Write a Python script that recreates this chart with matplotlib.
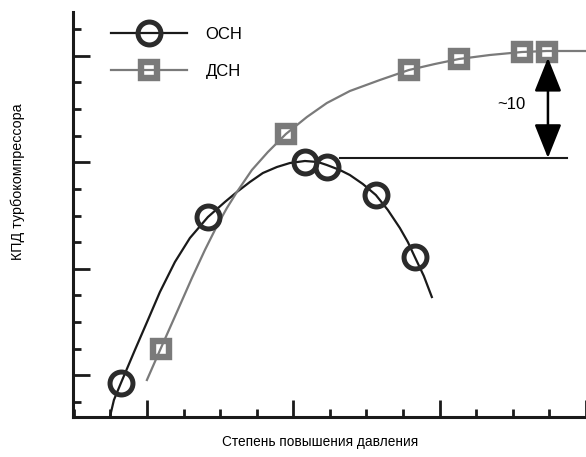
import matplotlib
matplotlib.use('Agg')
import matplotlib.pyplot as plt
from matplotlib.ticker import MultipleLocator

# ОСН: marker points and curve trace
osn_x = [-0.71, 1.67, 4.32, 4.92, 6.26, 7.32]
osn_y = [1.71, 7.94, 10.01, 9.82, 8.77, 6.44]
osn_curve_x = [-1.011, -0.902, -0.710, -0.328, 0.027, 0.355, 0.765, 1.175, 1.667,
               2.131, 2.459, 2.814, 3.169, 3.552, 3.907, 4.317, 4.672, 4.918, 5.273,
               5.546, 5.902, 6.257, 6.585, 6.913, 7.131, 7.322, 7.568, 7.787]
osn_curve_y = [0.44, 1.075, 1.713, 2.952, 4.078, 5.129, 6.255, 7.156, 7.944,
               8.508, 8.883, 9.258, 9.596, 9.821, 9.971, 10.047, 10.009, 9.896, 9.709,
               9.521, 9.183, 8.770, 8.207, 7.532, 7.006, 6.443, 5.730, 4.941]

# ДСН
dsn_x = [0.38, 3.80, 7.16, 8.52, 10.25, 10.93]
dsn_y = [2.99, 11.06, 13.46, 13.88, 14.14, 14.14]
dsn_curve_x = [0.0, 0.383, 0.820, 1.230, 1.585, 1.913, 2.186, 2.459, 2.869, 3.306,
               3.798, 4.372, 4.918, 5.546, 6.366, 7.158, 7.869, 8.525, 9.372, 10.246,
               10.929, 11.557, 11.995]
dsn_curve_y = [1.826, 3.027, 4.378, 5.655, 6.706, 7.607, 8.282, 8.883, 9.709, 10.384,
               11.060, 11.698, 12.224, 12.674, 13.087, 13.462, 13.688, 13.875, 14.026,
               14.138, 14.176, 14.176, 14.176]

# reference level and the gap annotation
ref_level = 10.16
ref_x = [5.27, 11.48]
gap_x = 10.96
gap_top = 13.92
gap_label = '~10'

fig = plt.figure(figsize=(5.86, 4.57), dpi=100)
ax = fig.add_axes([73 / 586, 40 / 457, 513 / 586, 405 / 457])

black = '#1a1a1a'
grey = '#7a7a7a'

ax.plot(osn_curve_x, osn_curve_y, color=black, lw=1.6, zorder=2,
        solid_joinstyle='round')
ax.plot(dsn_curve_x, dsn_curve_y, color=grey, lw=1.6, zorder=2,
        solid_joinstyle='round')
ax.plot(osn_x, osn_y, ls='none', marker='o', ms=16.5, mfc='none', mec='#2b2b2b',
        mew=3.6, zorder=3)
ax.plot(dsn_x, dsn_y, ls='none', marker='s', ms=11.5, mfc='none', mec=grey,
        mew=4.6, zorder=3)

# legend proxies
ax.plot([], [], color=black, lw=1.6, marker='o', ms=16.5, mfc='none', mec='#2b2b2b',
        mew=3.6, label='ОСН')
ax.plot([], [], color=grey, lw=1.6, marker='s', ms=11.5, mfc='none', mec=grey,
        mew=4.6, label='ДСН')
leg = ax.legend(loc='upper left', bbox_to_anchor=(0.044, 1.0), frameon=False,
                handlelength=4.6, handletextpad=1.1, labelspacing=1.3,
                prop={'family': ['Liberation Sans', 'DejaVu Sans'], 'size': 12})

ax.plot(ref_x, [ref_level, ref_level], color=black, lw=1.5, zorder=2)
ax.annotate('', xy=(gap_x, gap_top), xytext=(gap_x, ref_level),
            arrowprops=dict(arrowstyle='<|-|>,head_length=1.05,head_width=0.42',
                            color='black', lw=1.8, mutation_scale=20,
                            shrinkA=0, shrinkB=0))
ax.text(9.95, 12.15, gap_label, ha='center', va='center', fontsize=12,
        family=['Liberation Sans', 'DejaVu Sans'])

ax.set_xlim(-2.02, 12.0)
ax.set_ylim(0.437, 15.64)

for s in ['top', 'right']:
    ax.spines[s].set_visible(False)
for s in ['left', 'bottom']:
    ax.spines[s].set_linewidth(2.2)
    ax.spines[s].set_color(black)

ax.xaxis.set_major_locator(MultipleLocator(4))
ax.xaxis.set_minor_locator(MultipleLocator(1))
ax.yaxis.set_major_locator(MultipleLocator(4, offset=2))
ax.yaxis.set_minor_locator(MultipleLocator(1))
ax.tick_params(which='both', direction='in', width=2, color=black,
               labelbottom=False, labelleft=False)
ax.tick_params(which='major', length=12)
ax.tick_params(which='minor', length=6)

label_font = ['Liberation Sans Narrow', 'Liberation Sans', 'DejaVu Sans']
fig.text(320 / 586, 1 - 442 / 457, 'Степень повышения давления', ha='center',
         va='center', fontsize=9.8, family=label_font)
fig.text(18 / 586, 1 - 182 / 457, 'КПД турбокомпрессора', ha='center', va='center',
         rotation=90, fontsize=10.3, family=label_font)

fig.savefig('out.png', dpi=100)
